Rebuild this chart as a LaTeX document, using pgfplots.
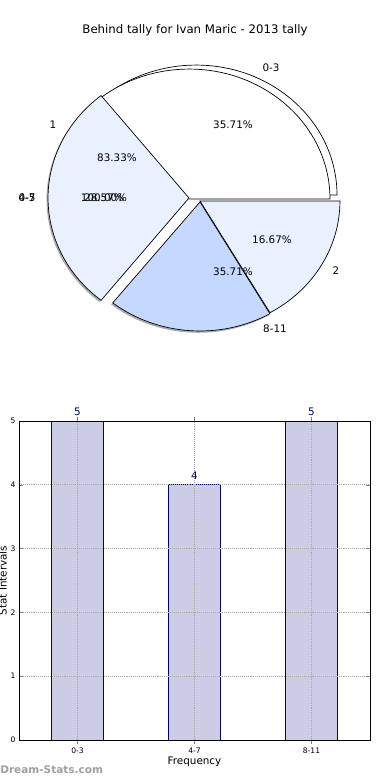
\documentclass[border=0pt]{standalone}
\usepackage{pgfplots}
\pgfplotsset{compat=1.18}
\usepackage{fontspec}
\setmainfont{DejaVu Sans}
\definecolor{lightwedge}{RGB}{234,241,254}
\definecolor{darkwedge}{RGB}{197,216,255}
\definecolor{barfill}{RGB}{204,204,228}
\definecolor{navy}{RGB}{0,0,128}
% pie values
\def\vA{5}\def\vB{4}\def\vC{5}% 0-3, 4-7, 8-11
\def\wA{5}\def\wB{1}% second pie: 1, 2
\pgfmathsetmacro\tot{\vA+\vB+\vC}
\pgfmathsetmacro\aA{360*\vA/\tot}
\pgfmathsetmacro\aB{360*(\vA+\vB)/\tot}
\pgfmathsetmacro\aW{360*\wA/(\wA+\wB)}
% slice: #1 style, #2 cx, #3 cy (pixels from top), #4 rx, #5 ry, #6 start, #7 end
\newcommand\pieslice[7]{%
  \pgfmathsetmacro\cyy{390-#3}%
  \pgfmathsetmacro\sa{#6}%
  \pgfmathsetmacro\ea{#7}%
  \pgfmathsetmacro\xa{#2+#4*cos(\sa)}%
  \pgfmathsetmacro\ya{\cyy+#5*sin(\sa)}%
  \pgfmathsetmacro\rxx{#4*0.01}%
  \pgfmathsetmacro\ryy{#5*0.01}%
  \edef\temp{\noexpand\draw[#1] (axis cs:#2,\cyy) -- (axis cs:\xa,\ya)
    arc[start angle=\sa, end angle=\ea, x radius=\rxx in, y radius=\ryy in] -- cycle;}%
  \temp
}
\newcommand\pielabel[3]{\node[font=\fontsize{7.5}{9}\selectfont] at (axis cs:#1,390-#2) {#3};}
\begin{document}
\begin{tikzpicture}
\path[use as bounding box] (0,0) rectangle (3.9in,7.8in);
% ---------------- pie ----------------
\begin{axis}[at={(0,3.9in)}, anchor=south west, width=3.9in, height=3.9in,
  scale only axis, xmin=0, xmax=390, ymin=0, ymax=390, hide axis, clip=false]
% shadows
\pieslice{fill=gray!65, draw=none}{187.5}{199.8}{141}{131}{\aA}{\aB}
\pieslice{fill=gray!65, draw=none}{198.5}{203.8}{140}{129}{\aB}{\aW}
% white 0-3 wedges
\pieslice{fill=white, draw=black, line width=0.5pt}{196}{195}{141}{130}{0}{\aA}
\pieslice{fill=white, draw=black, line width=0.5pt}{189}{199}{141}{130}{0}{\aA}
% 4-7 wedge
\pieslice{fill=lightwedge, draw=black, line width=0.5pt}{189}{198}{141}{131}{\aA}{\aB}
% 8-11 wedge
\pieslice{fill=darkwedge, draw=black, line width=0.5pt}{200}{202}{140}{129}{\aB}{\aW}
% "2" wedge
\pieslice{fill=lightwedge, draw=black, line width=0.5pt}{200}{201}{140}{129}{\aW}{360}
\pielabel{271}{68}{0-3}
\pielabel{233}{125}{35.71\%}
\pielabel{53}{125}{1}
\pielabel{117}{158}{83.33\%}
\pielabel{27}{198}{4-7}
\pielabel{27}{198}{0-5}
\pielabel{104}{198}{28.57\%}
\pielabel{104}{198}{100.00\%}
\pielabel{272}{240}{16.67\%}
\pielabel{336}{271}{2}
\pielabel{233}{272}{35.71\%}
\pielabel{275}{329}{8-11}
\node[font=\fontsize{8.5}{10}\selectfont] at (axis cs:195,360) {Behind tally for Ivan Maric - 2013 tally};
\end{axis}
% ---------------- bars ----------------
\begin{axis}[at={(0.19in,0.40in)}, anchor=south west, width=3.51in, height=3.19in,
  scale only axis, xmin=-0.5, xmax=2.5, ymin=0, ymax=5,
  xtick={0,1,2}, xticklabels={0-3,4-7,8-11}, ytick={0,1,2,3,4,5},
  tick align=inside, xtick pos=both, ytick pos=both,
  major tick length=3pt,
  /pgf/number format/assume math mode=true,
  tick label style={font=\fontsize{5.5}{6}\selectfont},
  xticklabel style={yshift=1pt}, yticklabel style={xshift=1pt},
  grid=major, grid style={densely dotted, gray!70, line width=0.6pt},
  axis on top, axis line style={line width=0.6pt},
  xlabel={Frequency}, ylabel={Stat Intervals},
  label style={font=\fontsize{7.5}{9}\selectfont},
  xlabel style={yshift=4pt}, ylabel style={yshift=-4pt},
  ybar, bar width=0.445,
  nodes near coords,
  nodes near coords style={font=\fontsize{7.5}{9}\selectfont, text=navy, yshift=0.5pt},
  clip=false]
\addplot[fill=barfill, draw=navy, line width=0.6pt] coordinates {(0,5) (1,4) (2,5)};
\end{axis}
\node[anchor=west, font=\bfseries\fontsize{7.6}{8}\selectfont, text=gray!75, inner sep=0pt] at (0,0.10in) {Dream-Stats.com};
\end{tikzpicture}
\end{document}
